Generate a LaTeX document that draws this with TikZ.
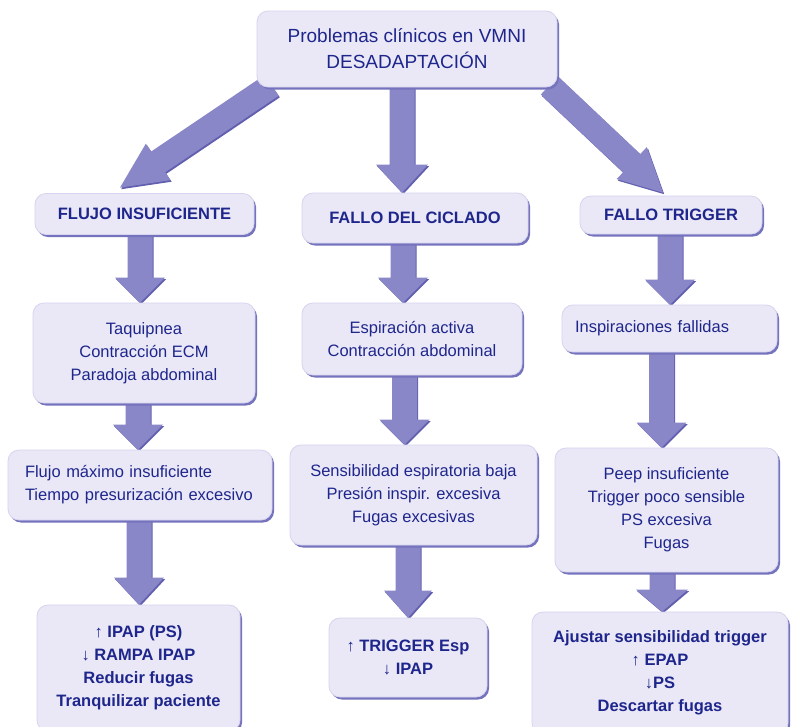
\documentclass[tikz,border=0pt]{standalone}
\usepackage{fontspec}
\setmainfont{Liberation Sans}
\usetikzlibrary{shadows,calc}
\pgfdeclarelayer{background}
\pgfsetlayers{background,main}
\definecolor{boxfill}{RGB}{234,232,247}
\definecolor{boxline}{RGB}{214,212,238}
\definecolor{boxshadow}{RGB}{118,115,190}
\definecolor{arrowcol}{RGB}{138,135,200}
\definecolor{arrowdark}{RGB}{98,95,176}
\definecolor{txt}{RGB}{30,38,140}
\tikzset{
  box/.style={rectangle, rounded corners=11pt, fill=boxfill, draw=boxline, line width=0.8pt,
    text=txt, inner sep=0pt, align=center, font=\fontsize{16.5}{23}\selectfont,
    drop shadow={shadow xshift=2pt, shadow yshift=-2.5pt, fill=boxshadow, opacity=1}},
  boldbox/.style={box, font=\fontsize{16.5}{23}\selectfont\bfseries},
  arrowbody/.style={fill=arrowcol},
  arrowedge/.style={fill=arrowdark}
}
% block arrow: #1 start, #2 tip, #3 head length (pt), #4 head half width (pt)
\newcommand\blockarrow[4]{%
  \path let \p1=#1, \p2=#2 in \pgfextra{%
    \pgfmathsetmacro\bax{\x1}\pgfmathsetmacro\bay{\y1}%
    \pgfmathsetmacro\bang{atan2(\y2-\y1,\x2-\x1)}%
    \pgfmathsetmacro\blen{veclen(\x2-\x1,\y2-\y1)}%
    \xdef\bax{\bax}\xdef\bay{\bay}\xdef\bang{\bang}\xdef\blen{\blen}};
  \begin{scope}[shift={(\bax pt+1.2pt,\bay pt-1.6pt)}, rotate=\bang]
    \fill[arrowedge] (0pt,-12.5pt) -- (\blen pt-#3pt,-12.5pt) -- (\blen pt-#3pt,-#4pt)
      -- (\blen pt,0pt) -- (\blen pt-#3pt,#4pt) -- (\blen pt-#3pt,12.5pt) -- (0pt,12.5pt) -- cycle;
  \end{scope}
  \begin{scope}[shift={(\bax pt,\bay pt)}, rotate=\bang]
    \fill[arrowbody] (0pt,-12.5pt) -- (\blen pt-#3pt,-12.5pt) -- (\blen pt-#3pt,-#4pt)
      -- (\blen pt,0pt) -- (\blen pt-#3pt,#4pt) -- (\blen pt-#3pt,12.5pt) -- (0pt,12.5pt) -- cycle;
  \end{scope}}
\begin{document}
\begin{tikzpicture}[x=1pt,y=-1pt]
\useasboundingbox (0,0) rectangle (791,726);
\begin{pgfonlayer}{background}
\fill[white] (0,0) rectangle (791,726);
\end{pgfonlayer}
\clip (0,0) rectangle (791,726);

\node[box, minimum width=300pt, minimum height=76pt, font=\fontsize{19}{26}\selectfont] (top) at (407,49) {Problemas clínicos en VMNI\\DESADAPTACIÓN};

\node[boldbox, minimum width=219pt, minimum height=41pt] (flujo) at (144.5,214) {FLUJO INSUFICIENTE};
\node[boldbox, minimum width=226pt, minimum height=50pt] (ciclado) at (415,218) {FALLO DEL CICLADO};
\node[boldbox, minimum width=182pt, minimum height=38pt] (trigger) at (671,215) {FALLO TRIGGER};

\node[box, minimum width=222pt, minimum height=100pt] (taqui) at (144,353) {Taquipnea\\Contracción ECM\\Paradoja abdominal};
\node[box, minimum width=220pt, minimum height=72pt] (espir) at (412,339) {Espiración activa\\Contracción abdominal};
\node[box, align=left, inner xsep=13pt, text width=189pt, minimum height=47pt] (inspir) at (669.5,328.5) {Inspiraciones fallidas};

\node[box, align=left, inner xsep=17pt, text width=230pt, minimum height=70pt] (fmax) at (140,485) {Flujo máximo insuficiente\\Tiempo presurización excesivo};
\node[box, minimum width=247pt, minimum height=100pt] (sens) at (413.5,495) {Sensibilidad espiratoria baja\\Presión inspir. excesiva\\Fugas excesivas};
\node[box, minimum width=223pt, minimum height=124pt] (peep) at (666.5,510) {Peep insuficiente\\Trigger poco sensible\\PS excesiva\\Fugas};

\node[boldbox, minimum width=203pt, minimum height=126pt] (ipap) at (138.5,668) {↑ IPAP (PS)\\↓ RAMPA IPAP\\Reducir fugas\\Tranquilizar paciente};
\node[boldbox, minimum width=158pt, minimum height=79pt] (tesp) at (408,657.5) {↑ TRIGGER Esp\\↓ IPAP};
\node[boldbox, minimum width=256pt, minimum height=122pt] (ajust) at (660,673) {Ajustar sensibilidad trigger\\↑ EPAP\\↓PS\\Descartar fugas};

\begin{pgfonlayer}{background}
\blockarrow{($(top.south west)+(15,-2)$)}{($(flujo.north)+(-24.5,-5.5)$)}{46}{22}
\blockarrow{([xshift=-5pt]top.south)}{([xshift=-5pt]top.south |- ciclado.north)}{28}{26}
\blockarrow{($(top.south east)+(-8,-2)$)}{($(trigger.north)+(-8,-3)$)}{43}{22}
\blockarrow{([xshift=-4pt]taqui.north |- flujo.south)}{([xshift=-4pt]taqui.north)}{25}{25}
\blockarrow{([xshift=-2pt]fmax.north |- taqui.south)}{([xshift=-2pt]fmax.north)}{25}{25}
\blockarrow{([xshift=-1pt]fmax.south)}{([xshift=-1pt]fmax.south |- ipap.north)}{27}{25}
\blockarrow{([xshift=-9pt]espir.north |- ciclado.south)}{([xshift=-9pt]espir.north)}{25}{25}
\blockarrow{([xshift=-9pt]sens.north |- espir.south)}{([xshift=-9pt]sens.north)}{25}{25}
\blockarrow{(tesp.north |- sens.south)}{(tesp.north)}{27}{24}
\blockarrow{([xshift=-1pt]trigger.south)}{([xshift=-1pt]trigger.south |- inspir.north)}{25}{25}
\blockarrow{([xshift=-5pt]peep.north |- inspir.south)}{([xshift=-5pt]peep.north)}{25}{25}
\blockarrow{([xshift=2pt]ajust.north |- peep.south)}{([xshift=2pt]ajust.north)}{22}{26}
\end{pgfonlayer}
\end{tikzpicture}
\end{document}
